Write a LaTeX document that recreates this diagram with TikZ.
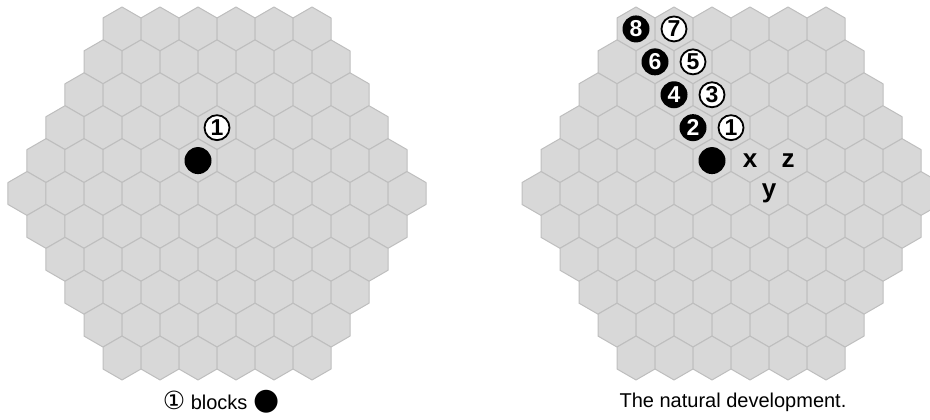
\documentclass[tikz,border=0pt]{standalone}
\usepackage{fontspec}
\setmainfont{Liberation Sans}
\newfontfamily\symfont{DejaVu Sans}

\definecolor{cellfill}{HTML}{D8D8D8}
\definecolor{cellline}{HTML}{BEBEBE}

\tikzset{
  cell/.style={fill=cellfill, draw=cellline, line width=1pt, line join=round},
  blackstone/.style={circle, fill=black, inner sep=0pt, minimum size=27pt, text=white,
    font=\bfseries\fontsize{23}{23}\selectfont},
  whitestone/.style={circle, fill=white, draw=black, line width=1.8pt, inner sep=0pt,
    minimum size=25pt, font=\bfseries\fontsize{23}{23}\selectfont},
  cellmark/.style={font=\bfseries\fontsize{26}{26}\selectfont},
  caption/.style={font=\fontsize{20}{24}\selectfont}
}

\begin{document}
\begin{tikzpicture}[x=1pt, y=-1pt]
  \useasboundingbox (0,0) rectangle (930,420);
  % the two boards
  \foreach \bx in {217,731} {
    \foreach \r in {0,...,10} {
      \pgfmathtruncatemacro{\n}{11-abs(\r-5)}
      \foreach \k in {1,...,\n} {
        \pgfmathsetmacro{\hx}{\bx-(\n+1)*19+38*\k}
        \pgfmathsetmacro{\hy}{28.94+32.909*\r}
        \draw[cell] (\hx,\hy) +(30:21.94) -- +(90:21.94) -- +(150:21.94)
          -- +(210:21.94) -- +(270:21.94) -- +(330:21.94) -- cycle;
      }
    }
  }

  % left board
  \node[blackstone] (L0) at (198,160.58) {};
  \node[whitestone] (L1) at (217,127.67) {1};
  \node[caption] (capL) at (221,402) {{\symfont\fontsize{25}{25}\selectfont ①} blocks {\symfont\fontsize{30}{30}\selectfont ●}};

  % right board
  \node[blackstone] (R0) at (712,160.58) {};
  \node[whitestone] (R1) at (731,127.67) {1};
  \node[blackstone] (R2) at (693,127.67) {2};
  \node[whitestone] (R3) at (712,94.76) {3};
  \node[blackstone] (R4) at (674,94.76) {4};
  \node[whitestone] (R5) at (693,61.85) {5};
  \node[blackstone] (R6) at (655,61.85) {6};
  \node[whitestone] (R7) at (674,28.94) {7};
  \node[blackstone] (R8) at (636,28.94) {8};
  \node[cellmark] (Rx) at (750,160.58) {x};
  \node[cellmark] (Rz) at (788,160.58) {z};
  \node[cellmark] (Ry) at (769,193.49) {y};
  \node[caption] (capR) at (733,402) {The natural development.};
\end{tikzpicture}
\end{document}
